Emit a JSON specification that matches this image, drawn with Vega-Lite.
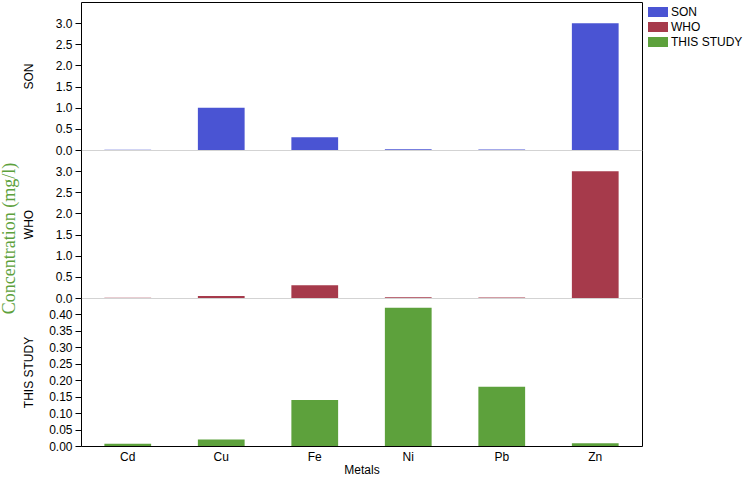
{
  "$schema": "https://vega.github.io/schema/vega-lite/v6.json",
  "padding": {"left": 1, "top": 2, "right": 2, "bottom": 2},
  "title": {"text": "Concentration (mg/l)", "orient": "left", "anchor": "middle", "font": "Liberation Serif", "fontSize": 18, "fontWeight": "normal", "color": "#5da13c", "offset": 3},
  "datasets": {
    "d": [
      {"metal": "Cd", "group": "SON", "value": 0.003},
      {"metal": "Cu", "group": "SON", "value": 1.0},
      {"metal": "Fe", "group": "SON", "value": 0.3},
      {"metal": "Ni", "group": "SON", "value": 0.02},
      {"metal": "Pb", "group": "SON", "value": 0.01},
      {"metal": "Zn", "group": "SON", "value": 3.0},
      {"metal": "Cd", "group": "WHO", "value": 0.003},
      {"metal": "Cu", "group": "WHO", "value": 0.05},
      {"metal": "Fe", "group": "WHO", "value": 0.3},
      {"metal": "Ni", "group": "WHO", "value": 0.02},
      {"metal": "Pb", "group": "WHO", "value": 0.01},
      {"metal": "Zn", "group": "WHO", "value": 3.0},
      {"metal": "Cd", "group": "THIS STUDY", "value": 0.007},
      {"metal": "Cu", "group": "THIS STUDY", "value": 0.02},
      {"metal": "Fe", "group": "THIS STUDY", "value": 0.14},
      {"metal": "Ni", "group": "THIS STUDY", "value": 0.42},
      {"metal": "Pb", "group": "THIS STUDY", "value": 0.18},
      {"metal": "Zn", "group": "THIS STUDY", "value": 0.008}
    ]
  },
  "data": {"name": "d"},
  "spacing": 0,
  "bounds": "flush",
  "vconcat": [
    {
      "width": 561, "height": 148,
      "transform": [{"filter": "datum.group === 'SON'"}],
      "layer": [
        {
          "mark": {"type": "bar"},
          "encoding": {
            "x": {"field": "metal", "type": "nominal", "sort": ["Cd", "Cu", "Fe", "Ni", "Pb", "Zn"], "scale": {"domain": ["Cd", "Cu", "Fe", "Ni", "Pb", "Zn"], "paddingInner": 0.5, "paddingOuter": 0.25}, "axis": {"orient": "bottom", "labels": false, "ticks": false, "title": null, "domainColor": "#d3d3d3"}},
            "y": {"field": "value", "type": "quantitative", "scale": {"domain": [0, 3.5], "nice": false}, "axis": {"title": "SON", "values": [0, 0.5, 1, 1.5, 2, 2.5, 3], "format": ".1f"}},
            "color": {"field": "group", "type": "nominal", "scale": {"domain": ["SON", "WHO", "THIS STUDY"], "range": ["#4a54d3", "#a63a4b", "#5da13c"]}, "legend": {"title": null}}
          }
        },
        {
          "mark": {"type": "bar", "opacity": 0},
          "encoding": {
            "x": {"field": "metal", "type": "nominal", "sort": ["Cd", "Cu", "Fe", "Ni", "Pb", "Zn"], "axis": {"orient": "top", "labels": false, "ticks": false, "title": null}},
            "y": {"field": "value", "type": "quantitative", "axis": {"orient": "right", "labels": false, "ticks": false, "title": null, "minExtent": 0, "maxExtent": 0}}
          }
        }
      ],
      "resolve": {"axis": {"x": "independent", "y": "independent"}}
    },
    {
      "width": 561, "height": 148,
      "transform": [{"filter": "datum.group === 'WHO'"}],
      "layer": [
        {
          "mark": {"type": "bar"},
          "encoding": {
            "x": {"field": "metal", "type": "nominal", "sort": ["Cd", "Cu", "Fe", "Ni", "Pb", "Zn"], "scale": {"domain": ["Cd", "Cu", "Fe", "Ni", "Pb", "Zn"], "paddingInner": 0.5, "paddingOuter": 0.25}, "axis": {"orient": "bottom", "labels": false, "ticks": false, "title": null, "domainColor": "#d3d3d3"}},
            "y": {"field": "value", "type": "quantitative", "scale": {"domain": [0, 3.5], "nice": false}, "axis": {"title": "WHO", "values": [0, 0.5, 1, 1.5, 2, 2.5, 3], "format": ".1f"}},
            "color": {"field": "group", "type": "nominal", "scale": {"domain": ["SON", "WHO", "THIS STUDY"], "range": ["#4a54d3", "#a63a4b", "#5da13c"]}, "legend": {"title": null}}
          }
        },
        {
          "mark": {"type": "bar", "opacity": 0},
          "encoding": {
            "x": {"field": "metal", "type": "nominal", "sort": ["Cd", "Cu", "Fe", "Ni", "Pb", "Zn"]},
            "y": {"field": "value", "type": "quantitative", "axis": {"orient": "right", "labels": false, "ticks": false, "title": null, "minExtent": 0, "maxExtent": 0}}
          }
        }
      ],
      "resolve": {"axis": {"y": "independent"}}
    },
    {
      "width": 561, "height": 148,
      "transform": [{"filter": "datum.group === 'THIS STUDY'"}],
      "layer": [
        {
          "mark": {"type": "bar"},
          "encoding": {
            "x": {"field": "metal", "type": "nominal", "sort": ["Cd", "Cu", "Fe", "Ni", "Pb", "Zn"], "scale": {"domain": ["Cd", "Cu", "Fe", "Ni", "Pb", "Zn"], "paddingInner": 0.5, "paddingOuter": 0.25}, "axis": {"orient": "bottom", "labelAngle": 0, "ticks": false, "labelPadding": 5, "title": "Metals", "titlePadding": 2}},
            "y": {"field": "value", "type": "quantitative", "scale": {"domain": [0, 0.45], "nice": false}, "axis": {"title": "THIS STUDY", "values": [0, 0.05, 0.1, 0.15, 0.2, 0.25, 0.3, 0.35, 0.4], "format": ".2f"}},
            "color": {"field": "group", "type": "nominal", "scale": {"domain": ["SON", "WHO", "THIS STUDY"], "range": ["#4a54d3", "#a63a4b", "#5da13c"]}, "legend": {"title": null}}
          }
        },
        {
          "mark": {"type": "bar", "opacity": 0},
          "encoding": {
            "x": {"field": "metal", "type": "nominal", "sort": ["Cd", "Cu", "Fe", "Ni", "Pb", "Zn"]},
            "y": {"field": "value", "type": "quantitative", "axis": {"orient": "right", "labels": false, "ticks": false, "title": null, "minExtent": 0, "maxExtent": 0}}
          }
        }
      ],
      "resolve": {"axis": {"y": "independent"}}
    }
  ],
  "config": {
    "view": {"stroke": null},
    "axis": {"labelFont": "Liberation Sans", "titleFont": "Liberation Sans", "labelFontSize": 12, "titleFontSize": 12, "titleFontWeight": "normal", "labelColor": "black", "titleColor": "black", "domainColor": "black", "tickColor": "black", "grid": false},
    "axisY": {"tickSize": 6, "labelPadding": 3, "minExtent": 35, "maxExtent": 35, "titlePadding": 11},
    "legend": {"labelFont": "Liberation Sans", "labelFontSize": 12, "labelColor": "black", "symbolType": "M-2,-1H2V1H-2Z", "symbolSize": 100, "symbolStrokeWidth": 0, "symbolOpacity": 1, "labelOffset": 7, "rowPadding": 3, "padding": 4, "offset": 6}
  }
}
